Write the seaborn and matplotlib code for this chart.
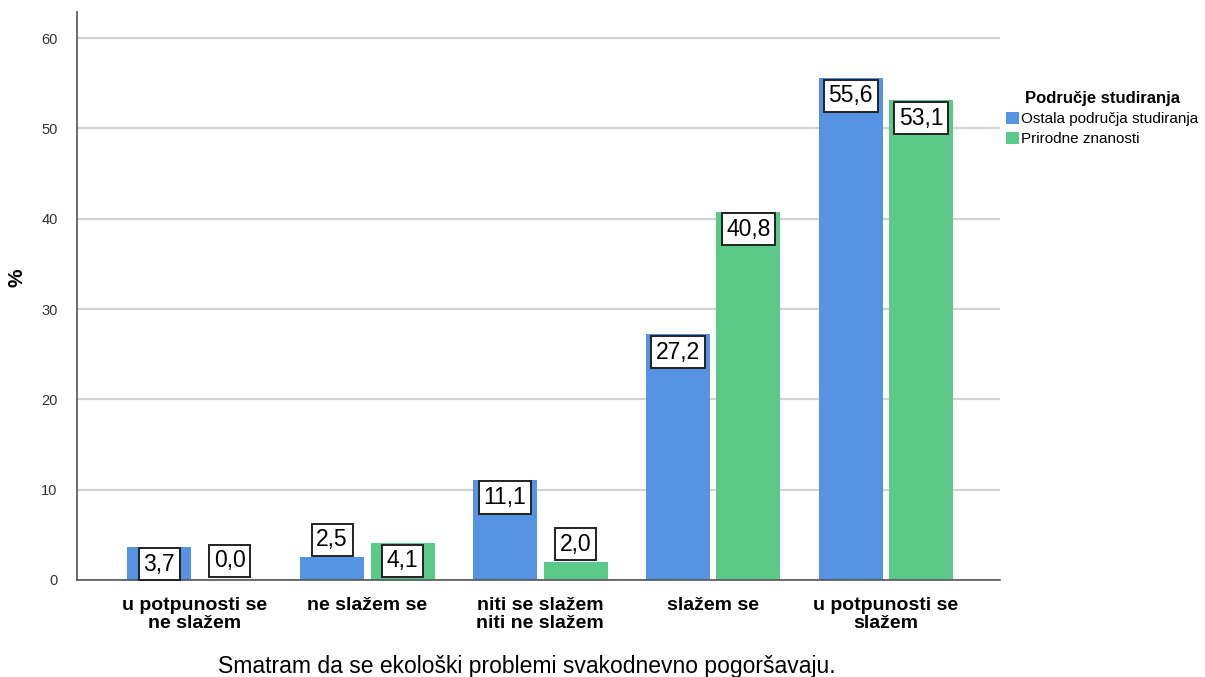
import matplotlib
matplotlib.use("Agg")
import matplotlib.pyplot as plt
import seaborn as sns
import pandas as pd
from matplotlib.patches import Patch

categories = ["u potpunosti se\nne slažem", "ne slažem se", "niti se slažem\nniti ne slažem",
              "slažem se", "u potpunosti se\nslažem"]
groups = ["Ostala područja studiranja", "Prirodne znanosti"]
ostala = [3.7, 2.5, 11.1, 27.2, 55.6]
prirodne = [0.0, 4.1, 2.0, 40.8, 53.1]
colors = ["#5693E3", "#5BCA88"]

df = pd.DataFrame({
    "cat": categories * 2,
    "grp": [groups[0]] * 5 + [groups[1]] * 5,
    "val": ostala + prirodne,
})

sns.set_theme(style="white")
plt.rcParams["font.family"] = ["Liberation Sans", "DejaVu Sans"]
plt.rcParams["text.color"] = "black"

fig = plt.figure(figsize=(12.05, 6.77), dpi=100)
ax = fig.add_axes([0.0639, 0.1433, 0.7661, 0.839])

sns.barplot(data=df, x="cat", y="val", hue="grp", order=categories, hue_order=groups,
            palette=colors, width=0.816, ax=ax, legend=False, saturation=1)

bw = 0.37
for p in ax.patches:
    c = p.get_x() + p.get_width() / 2
    p.set_width(bw)
    p.set_x(c - bw / 2)
    p.set_edgecolor("none")

ax.set_xlim(-0.68, 4.66)
ax.set_ylim(0, 62.9)
ax.set_yticks(range(0, 61, 10))
ax.yaxis.grid(True, color="#d3d3d3", linewidth=1.6)
ax.set_axisbelow(True)
for s in ["top", "right"]:
    ax.spines[s].set_visible(False)
for s in ["left", "bottom"]:
    ax.spines[s].set_color("#555555")
    ax.spines[s].set_linewidth(1.2)
ax.tick_params(axis="y", labelsize=10.5, labelcolor="#333333", length=0, pad=14)
ax.tick_params(axis="x", labelsize=14, labelcolor="black", length=0, pad=12)
for t in ax.get_xticklabels():
    t.set_fontweight("bold")
    t.set_linespacing(1.1)

ax.set_xlabel("Smatram da se ekološki problemi svakodnevno pogoršavaju.", fontsize=16.5,
              color="black")
ax.xaxis.set_label_coords((527 - 77) / 923, -(655 - 580) / 568)
ax.set_ylabel("%", fontsize=15, fontweight="bold", color="black")
ax.yaxis.set_label_coords(-(77 - 27) / 923, (580 - 278) / 568)

# value labels
box = dict(boxstyle="square,pad=0.2", facecolor="white", edgecolor="#222222", linewidth=1.4)
for p in ax.patches:
    if p.get_width() <= 0:
        continue
    h = p.get_height()
    cx = p.get_x() + p.get_width() / 2
    txt = f"{h:.1f}".replace(".", ",")
    if h >= 3.5:
        ax.annotate(txt, (cx, h), xytext=(0, -4.5), textcoords="offset points",
                    ha="center", va="top", fontsize=16.5, bbox=box)
    elif h > 0:
        ax.annotate(txt, (cx, h), xytext=(0, 4.5), textcoords="offset points",
                    ha="center", va="bottom", fontsize=16.5, bbox=box)
    else:
        ax.annotate(txt, (cx, 0), xytext=(0, 5.5), textcoords="offset points",
                    ha="center", va="bottom", fontsize=16.5, bbox=box)

handles = [Patch(facecolor=c, edgecolor="none") for c in colors]
leg = fig.legend(handles, groups, title="Područje studiranja", loc="upper left",
                 bbox_to_anchor=(1006 / 1205, 1 - 91 / 677), frameon=False, fontsize=11,
                 title_fontsize=12, handlelength=0.85, handleheight=0.85,
                 handletextpad=0.15, labelspacing=0.38, borderaxespad=0, borderpad=0)
leg.get_title().set_fontweight("bold")
leg._legend_box.align = "center"

fig.savefig("out.png", dpi=100)
